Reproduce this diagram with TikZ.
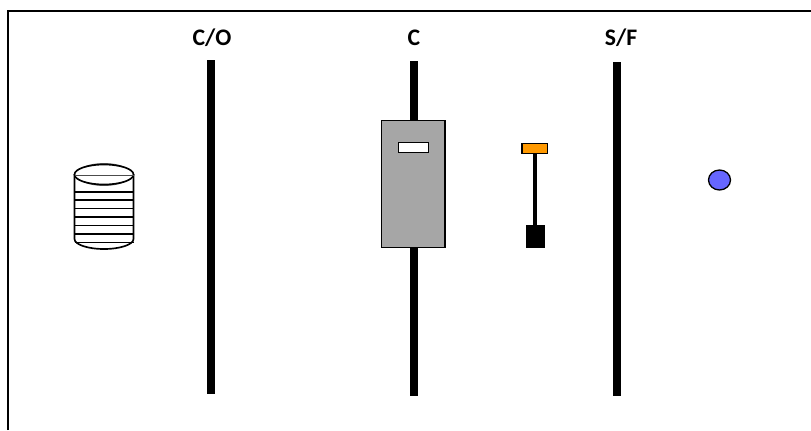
\documentclass[tikz,border=0pt]{standalone}
\usepackage{fontspec}
\setmainfont{Carlito}
\usepackage{tikz}
\definecolor{colorgate}{HTML}{A6A6A6}
\definecolor{colortip}{HTML}{FF9900}
\definecolor{colordot}{HTML}{6666FF}
\tikzset{
  thinline/.style={draw=black, line width=0.75pt},
  drumline/.style={draw=black, line width=0.95pt},
  headlabel/.style={font=\bfseries\fontsize{13.5}{16}\selectfont, anchor=center}
}
\newcommand{\polebar}[3]{
\fill[black] (#1 - 4, #2) rectangle (#1 + 4, #3);
}

\begin{document}
\begin{tikzpicture}[x=0.02cm, y=-0.02cm]

\useasboundingbox (0, 0) rectangle (811, 430);

% outer frame
\draw[line width=1.1pt] (8, 430) -- (8, 11) -- (811, 11);

\polebar{211}{60}{394}
\polebar{414}{61}{396}
\polebar{617}{62}{396}

\node[headlabel] (labelco) at (212, 38) {C/O};
\node[headlabel] (labelc) at (414, 38) {C};
\node[headlabel] (labelsf) at (621, 38) {S/F};

% gate on the middle bar
\draw[thinline, fill=colorgate] (381.5, 120.5) rectangle (445, 247.5);
\draw[thinline, fill=white] (398.5, 142.5) rectangle (428.5, 152.5);

% plunger
\fill[black] (533, 153) rectangle (537, 226);
\draw[thinline, fill=colortip] (522, 143.5) rectangle (547.5, 153.5);
\fill[black] (525.5, 224.5) rectangle (545, 248);

% drum
\draw[drumline, fill=white] (74.5, 174) -- (74.5, 239) arc (180:0:29.5 and 10) -- (133.5, 174);
\foreach \y in {192, 200, 208.5, 217, 225.5, 234, 242.5} {
  \draw[thinline] (74.5, \y) -- (133.5, \y);
}
\draw[draw=black!60, fill=black!60, line width=0.5pt] (104, 174.5) ellipse (27 and 11);
\draw[drumline, fill=white] (104, 174.5) ellipse (29.5 and 10);
\draw[draw=black!70, line width=0.5pt] (74.5, 175) -- (133.5, 175);

% dot
\draw[thinline, fill=colordot] (719.5, 180) ellipse (11 and 10);

\end{tikzpicture}
\end{document}
